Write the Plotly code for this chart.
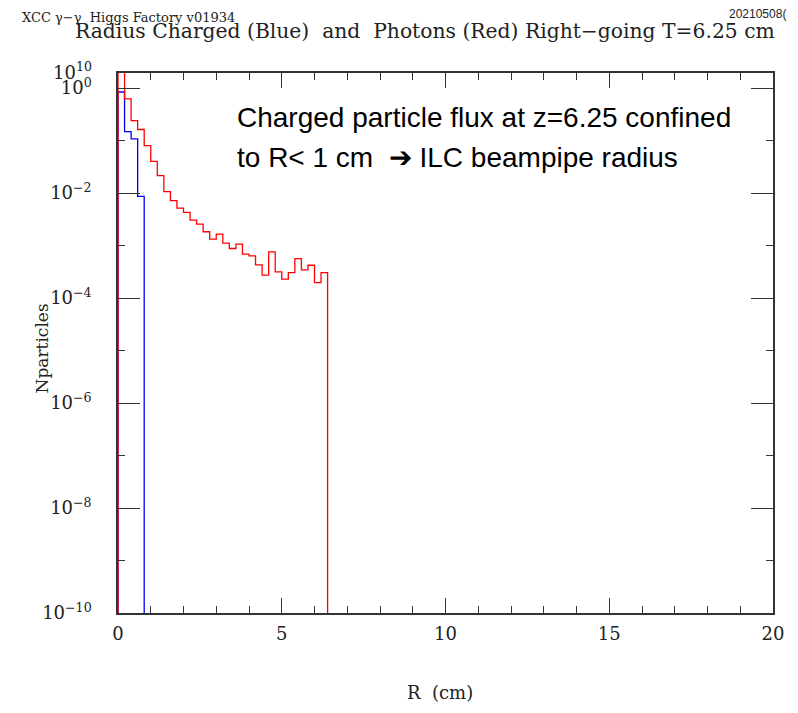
import plotly.graph_objects as go

# ---- data ----
bin_width = 0.2
red_values = [5.0, 0.62, 0.24, 0.162, 0.080, 0.040, 0.0214, 0.0106, 0.00714, 0.00517,
              0.00427, 0.00305, 0.00256, 0.00183, 0.00132, 0.00165, 0.00111, 0.000877,
              0.00106, 0.000684, 0.000635, 0.000428, 0.000272, 0.000757, 0.000314,
              0.000228, 0.000305, 0.000565, 0.000343, 0.000421, 0.000197, 0.000305]
blue_values = [0.84, 0.148, 0.107, 0.00864]
y_tickvals = [1e-10, 1e-8, 1e-6, 1e-4, 1e-2, 1e0]
y_ticktext = ["10<sup>\u221210</sup>", "10<sup>\u22128</sup>", "10<sup>\u22126</sup>",
              "10<sup>\u22124</sup>", "10<sup>\u22122</sup>", "10<sup>0</sup>"]
y_minor_vals = [1e-9, 1e-7, 1e-5, 1e-3, 1e-1]
x_tickvals = [0, 5, 10, 15, 20]
x_minor_vals = list(range(0, 21))
floor = 1e-14


def steps(values):
    edges = [i * bin_width for i in range(len(values) + 1)]
    xs = [edges[0]] + edges[:-1] + [edges[-1]]
    ys = [floor] + list(values) + [floor]
    return xs, ys


fig = go.Figure()
bx, by = steps(blue_values)
rx, ry = steps(red_values)
fig.add_trace(go.Scatter(x=bx, y=by, mode="lines", line=dict(color="#0000ff", width=1.3, shape="hv"),
                         showlegend=False))
fig.add_trace(go.Scatter(x=rx, y=ry, mode="lines", line=dict(color="#ff0000", width=1.3, shape="hv"),
                         showlegend=False))

serif = "DejaVu Serif"
axcol = "#333333"
txtcol = "#222222"
# page body has an 8px margin, so the figure is 8px smaller and margins shifted
fig.update_layout(
    width=790, height=705,
    margin=dict(l=110, r=25, t=65, b=100),
    paper_bgcolor="white", plot_bgcolor="white",
    font=dict(family=serif, size=17, color=txtcol),
    xaxis=dict(range=[0, 20], tickmode="array", tickvals=x_tickvals, ticks="inside", ticklen=15,
               tickwidth=1.2, tickcolor=axcol, showline=True, linecolor=axcol, linewidth=1.5,
               mirror="ticks", showgrid=False, zeroline=False, automargin=False,
               ticklabelstandoff=4,
               tickfont=dict(family=serif, size=18),
               minor=dict(tickmode="array", tickvals=x_minor_vals, ticks="inside", ticklen=7,
                          tickwidth=1.2, tickcolor=axcol, showgrid=False)),
    yaxis=dict(type="log", range=[-10, 0.286], tickmode="array", tickvals=y_tickvals,
               ticktext=y_ticktext, ticks="inside", ticklen=22, tickwidth=1.2, tickcolor=axcol,
               showline=True, linecolor=axcol, linewidth=1.5, mirror="ticks", showgrid=False,
               zeroline=False, automargin=False, ticklabelstandoff=21,
               tickfont=dict(family=serif, size=18),
               minor=dict(tickmode="array", tickvals=y_minor_vals, ticks="inside", ticklen=7,
                          tickwidth=1.2, tickcolor=axcol, showgrid=False)),
)

# axis titles
fig.add_annotation(text="R  (cm)", xref="paper", yref="paper", x=0.4916, y=-0.148,
                   xanchor="center", yanchor="middle", showarrow=False,
                   font=dict(family=serif, size=18, color=txtcol))
fig.add_annotation(text="Nparticles", xref="paper", yref="paper", x=-0.116, y=0.49,
                   xanchor="center", yanchor="middle", textangle=-90, showarrow=False,
                   font=dict(family=serif, size=17, color=txtcol))

fig.add_annotation(text="10<sup>10</sup>", xref="paper", yref="paper", x=-0.037, y=1.004,
                   xanchor="right", yanchor="middle", showarrow=False,
                   font=dict(family=serif, size=18, color=txtcol))
fig.add_annotation(text="Radius Charged (Blue)  and  Photons (Red) Right\u2212going T=6.25 cm",
                   xref="paper", yref="paper", x=-0.069, y=1.078, xanchor="left", yanchor="middle",
                   showarrow=False, font=dict(family=serif, size=20.3, color=txtcol))
fig.add_annotation(text="XCC \u03b3\u2212\u03b3  Higgs Factory v01934",
                   xref="paper", yref="paper", x=-0.1496, y=1.1037, xanchor="left", yanchor="middle",
                   showarrow=False, font=dict(family=serif, size=13, color=txtcol))
fig.add_annotation(text="20210508(",
                   xref="paper", yref="paper", x=0.9298, y=1.109, xanchor="left", yanchor="middle",
                   showarrow=False, font=dict(family="Liberation Sans", size=12, color=txtcol))
fig.add_annotation(text="Charged particle flux at z=6.25 confined",
                   xref="paper", yref="paper", x=0.178, y=0.9185, xanchor="left", yanchor="middle",
                   align="left", showarrow=False,
                   font=dict(family="Liberation Sans", size=28, color="#000000"))
fig.add_annotation(text="to R< 1 cm  \u2794 ILC beampipe radius",
                   xref="paper", yref="paper", x=0.178, y=0.8444, xanchor="left", yanchor="middle",
                   align="left", showarrow=False,
                   font=dict(family="Liberation Sans", size=28, color="#000000"))

fig.write_html("out.html")
